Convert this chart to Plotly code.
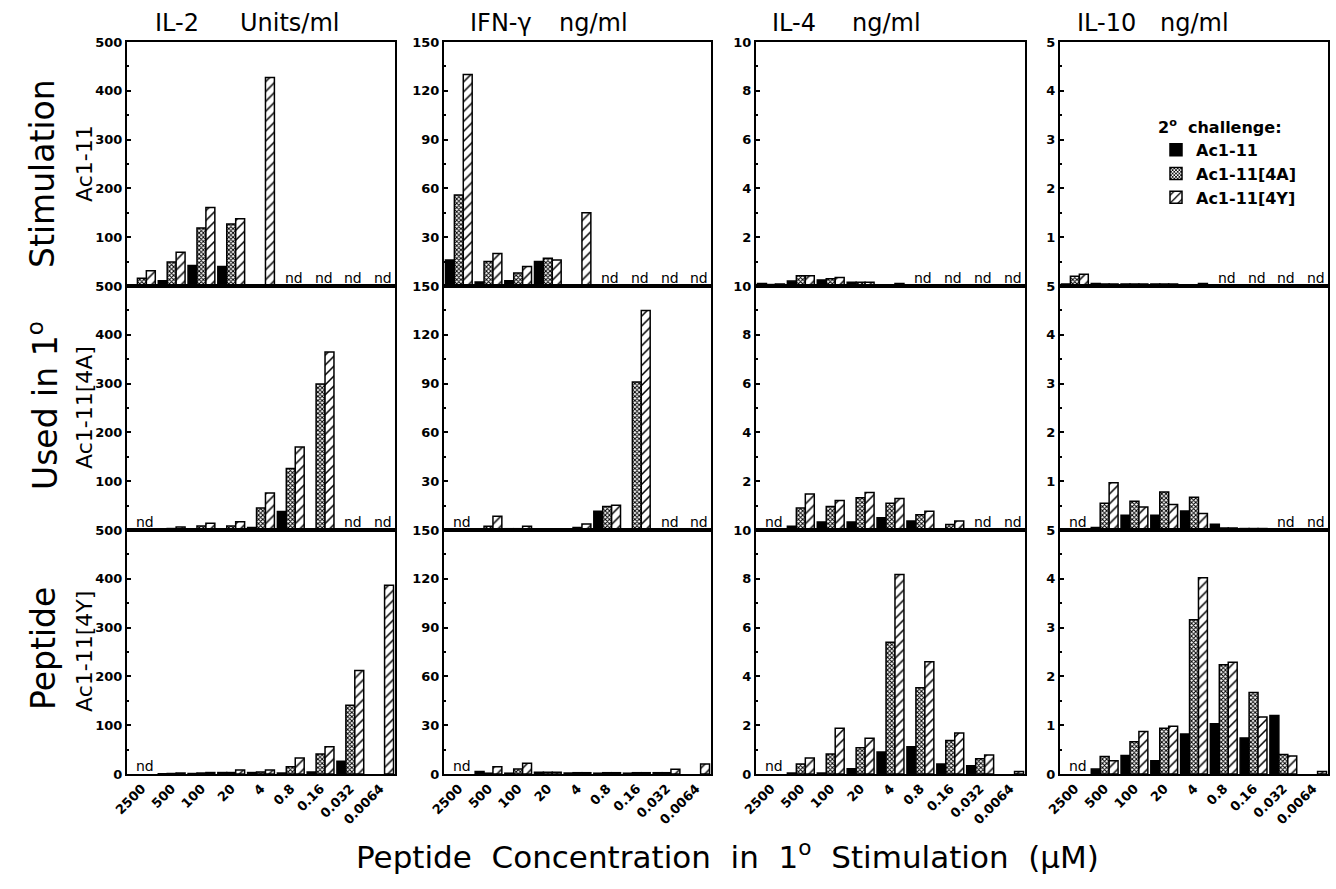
import plotly.graph_objects as go

W, H = 1336, 889

categories = ["2500", "500", "100", "20", "4", "0.8", "0.16", "0.032", "0.0064"]
series_names = ["Ac1-11", "Ac1-11[4A]", "Ac1-11[4Y]"]
row_labels = ["Ac1-11", "Ac1-11[4A]", "Ac1-11[4Y]"]
col_title_words = [("IL-2", "Units/ml"), ("IFN-γ", "ng/ml"), ("IL-4", "ng/ml"), ("IL-10", "ng/ml")]
y_max = [500, 150, 10, 5]
y_dtick = [100, 30, 2, 1]

# ---- Primary stimulation Ac1-11 (row 1) ----
il2_r1_wt = [1, 11, 42, 40, None, None, None, None, None]
il2_r1_4a = [16, 49, 119, 127, None, None, None, None, None]
il2_r1_4y = [31, 69, 161, 138, 427, None, None, None, None]
ifn_r1_wt = [16, 2.5, 3.3, 15, None, None, None, None, None]
ifn_r1_4a = [56, 15, 8, 17, None, None, None, None, None]
ifn_r1_4y = [130, 20, 12, 16, 45, None, None, None, None]
il4_r1_wt = [0.1, 0.2, 0.25, 0.15, None, None, None, None, None]
il4_r1_4a = [0.06, 0.42, 0.3, 0.15, None, None, None, None, None]
il4_r1_4y = [0.08, 0.42, 0.35, 0.15, 0.1, None, None, None, None]
il10_r1_wt = [0.04, 0.05, 0.04, 0.04, None, None, None, None, None]
il10_r1_4a = [0.2, 0.04, 0.04, 0.04, None, None, None, None, None]
il10_r1_4y = [0.24, 0.04, 0.04, 0.04, 0.05, None, None, None, None]

# ---- Primary stimulation Ac1-11[4A] (row 2) ----
il2_r2_wt = [None, 2, 1, 1, 5, 38, 0, None, None]
il2_r2_4a = [None, 3, 8, 8, 45, 126, 299, None, None]
il2_r2_4y = [None, 6, 14, 17, 76, 170, 365, None, None]
ifn_r2_wt = [None, 0, 0.8, 0.3, 0.3, 11.5, 0, None, None]
ifn_r2_4a = [None, 2.3, 0.8, 0.3, 1.6, 14.4, 91, None, None]
ifn_r2_4y = [None, 8.5, 2.3, 0.3, 3.7, 15.2, 135, None, None]
il4_r2_wt = [None, 0.15, 0.33, 0.33, 0.5, 0.37, 0, None, None]
il4_r2_4a = [None, 0.9, 0.96, 1.32, 1.1, 0.63, 0.23, None, None]
il4_r2_4y = [None, 1.48, 1.21, 1.54, 1.29, 0.77, 0.37, None, None]
il10_r2_wt = [None, 0.05, 0.3, 0.3, 0.39, 0.12, 0.03, None, None]
il10_r2_4a = [None, 0.55, 0.59, 0.78, 0.67, 0.04, 0.03, None, None]
il10_r2_4y = [None, 0.97, 0.47, 0.52, 0.34, 0.04, 0.03, None, None]

# ---- Primary stimulation Ac1-11[4Y] (row 3) ----
il2_r3_wt = [None, 0.5, 1, 3, 3, 2, 4, 26, None]
il2_r3_4a = [None, 1, 2, 3, 4, 15, 41, 141, None]
il2_r3_4y = [None, 2, 3, 8, 8, 33, 56, 212, 387]
ifn_r3_wt = [None, 1.5, 0.5, 1.0, 0.6, 0.5, 0.5, 0.8, None]
ifn_r3_4a = [None, 0.5, 3, 1.0, 0.8, 0.8, 0.8, 0.8, None]
ifn_r3_4y = [None, 4.5, 6.6, 1.0, 0.8, 0.8, 0.8, 2.9, 6.2]
il4_r3_wt = [None, 0.04, 0.04, 0.22, 0.9, 1.12, 0.41, 0.34, None]
il4_r3_4a = [None, 0.41, 0.82, 1.08, 5.4, 3.53, 1.37, 0.63, None]
il4_r3_4y = [None, 0.66, 1.88, 1.47, 8.18, 4.6, 1.68, 0.78, 0.1]
il10_r3_wt = [None, 0.1, 0.38, 0.27, 0.82, 1.03, 0.74, 1.2, None]
il10_r3_4a = [None, 0.36, 0.66, 0.94, 3.16, 2.24, 1.67, 0.4, None]
il10_r3_4y = [None, 0.27, 0.87, 0.98, 4.02, 2.29, 1.17, 0.37, 0.05]

# "nd" (not determined) categories per row
nd_rows = [
    ["0.8", "0.16", "0.032", "0.0064"],
    ["2500", "0.032", "0.0064"],
    ["2500"],
]

panels = [
    [(il2_r1_wt, il2_r1_4a, il2_r1_4y), (ifn_r1_wt, ifn_r1_4a, ifn_r1_4y),
     (il4_r1_wt, il4_r1_4a, il4_r1_4y), (il10_r1_wt, il10_r1_4a, il10_r1_4y)],
    [(il2_r2_wt, il2_r2_4a, il2_r2_4y), (ifn_r2_wt, ifn_r2_4a, ifn_r2_4y),
     (il4_r2_wt, il4_r2_4a, il4_r2_4y), (il10_r2_wt, il10_r2_4a, il10_r2_4y)],
    [(il2_r3_wt, il2_r3_4a, il2_r3_4y), (ifn_r3_wt, ifn_r3_4a, ifn_r3_4y),
     (il4_r3_wt, il4_r3_4a, il4_r3_4y), (il10_r3_wt, il10_r3_4a, il10_r3_4y)],
]

# layout geometry (pixels)
col_px = [(127, 395), (444, 711), (756, 1025), (1060, 1328)]
row_px = [(42, 286), (286, 530), (530, 774)]
title_word_x = [(153, 238), (468, 557), (770, 850), (1075, 1158)]

FONT = "DejaVu Sans"
patterns = [
    dict(shape="", fillmode="replace"),
    dict(shape="x", size=3, solidity=0.55, fgcolor="black", bgcolor="white", fillmode="replace"),
    dict(shape="/", size=7, solidity=0.22, fgcolor="black", bgcolor="white", fillmode="replace"),
]
fills = ["black", "white", "white"]

fig = go.Figure()
annotations = []
layout_axes = {}

for r in range(3):
    for c in range(4):
        n = r * 4 + c + 1
        xa = "x" if n == 1 else f"x{n}"
        ya = "y" if n == 1 else f"y{n}"
        for s in range(3):
            fig.add_trace(go.Bar(
                x=categories, y=panels[r][c][s], name=series_names[s],
                xaxis=xa, yaxis=ya, legendgroup=series_names[s],
                showlegend=(n == 1),
                marker=dict(color=fills[s], pattern=patterns[s],
                            line=dict(color="black", width=1.5)),
            ))
        x0, x1 = col_px[c]
        y0, y1 = row_px[r]
        if r < 2:
            tv = [y_dtick[c] * k for k in range(1, 6)]
        else:
            tv = [y_dtick[c] * k for k in range(0, 6)]
        kx = "xaxis" if n == 1 else f"xaxis{n}"
        ky = "yaxis" if n == 1 else f"yaxis{n}"
        layout_axes[kx] = dict(
            domain=[x0 / W, x1 / W], anchor=ya, type="category",
            categoryorder="array", categoryarray=categories,
            range=[-0.5, len(categories) - 0.5], automargin=False,
            showline=True, mirror=True, linecolor="black", linewidth=2,
            ticks="", showticklabels=(r == 2), tickangle=-45,
            tickfont=dict(family=FONT, size=13, color="black", weight="bold"),
            showgrid=False, zeroline=False, fixedrange=True,
        )
        layout_axes[ky] = dict(
            domain=[1 - y1 / H, 1 - y0 / H], anchor=xa,
            range=[0, y_max[c]], tickvals=tv, automargin=False,
            showline=True, mirror=True, linecolor="black", linewidth=2,
            ticks="inside", ticklen=4, tickcolor="black", tickwidth=1.5,
            minor=dict(dtick=y_dtick[c] / 2, ticks="inside", ticklen=2, tickcolor="black"),
            tickfont=dict(family=FONT, size=13, color="black", weight="bold"),
            showgrid=False, zeroline=False, fixedrange=True,
        )
        for cat in nd_rows[r]:
            annotations.append(dict(
                x=categories.index(cat), y=0, xref=xa, yref=ya, text="nd", showarrow=False,
                yanchor="bottom", xshift=3, yshift=-2,
                font=dict(family=FONT, size=14, color="black"),
            ))

# column titles (two words each)
for c in range(4):
    for w in range(2):
        annotations.append(dict(
            x=title_word_x[c][w] / W, y=1 - 23 / H, xref="paper", yref="paper",
            text=col_title_words[c][w], showarrow=False, xanchor="left", yanchor="middle",
            font=dict(family=FONT, size=24, color="black"),
        ))

# row labels
for r in range(3):
    y0, y1 = row_px[r]
    annotations.append(dict(
        x=84 / W, y=1 - (y0 + y1) / 2 / H, xref="paper", yref="paper",
        text=row_labels[r], showarrow=False, textangle=-90,
        xanchor="center", yanchor="middle",
        font=dict(family=FONT, size=22, color="black"),
    ))

# big left label (three pieces)
for txt, yc in [("Stimulation", 173), ("Used in 1<sup>o</sup>", 405), ("Peptide", 648)]:
    annotations.append(dict(
        x=43 / W, y=1 - yc / H, xref="paper", yref="paper",
        text=txt, showarrow=False, textangle=-90,
        xanchor="center", yanchor="middle",
        font=dict(family=FONT, size=33, color="black"),
    ))

# bottom label
annotations.append(dict(
    x=727 / W, y=1 - 855 / H, xref="paper", yref="paper",
    text="Peptide  Concentration  in  1<sup>o</sup>  Stimulation  (μM)", showarrow=False,
    xanchor="center", yanchor="middle",
    font=dict(family=FONT, size=31, color="black"),
))

fig.update_layout(
    width=W, height=H, margin=dict(l=0, r=0, t=0, b=0),
    paper_bgcolor="white", plot_bgcolor="white",
    barmode="group", bargap=0.1, bargroupgap=0.0,
    annotations=annotations,
    legend=dict(
        x=1156 / W, y=1 - 112 / H, xanchor="left", yanchor="top",
        bgcolor="rgba(0,0,0,0)", borderwidth=0,
        title=dict(text="2<sup>o</sup>  challenge:",
                   font=dict(family=FONT, size=16, color="black", weight="bold")),
        font=dict(family=FONT, size=16, color="black", weight="bold"),
        tracegroupgap=0, itemclick=False, itemdoubleclick=False,
    ),
    **layout_axes,
)

fig.write_html("out.html", post_script="document.body.style.margin='0';",
               config={"displayModeBar": False})
